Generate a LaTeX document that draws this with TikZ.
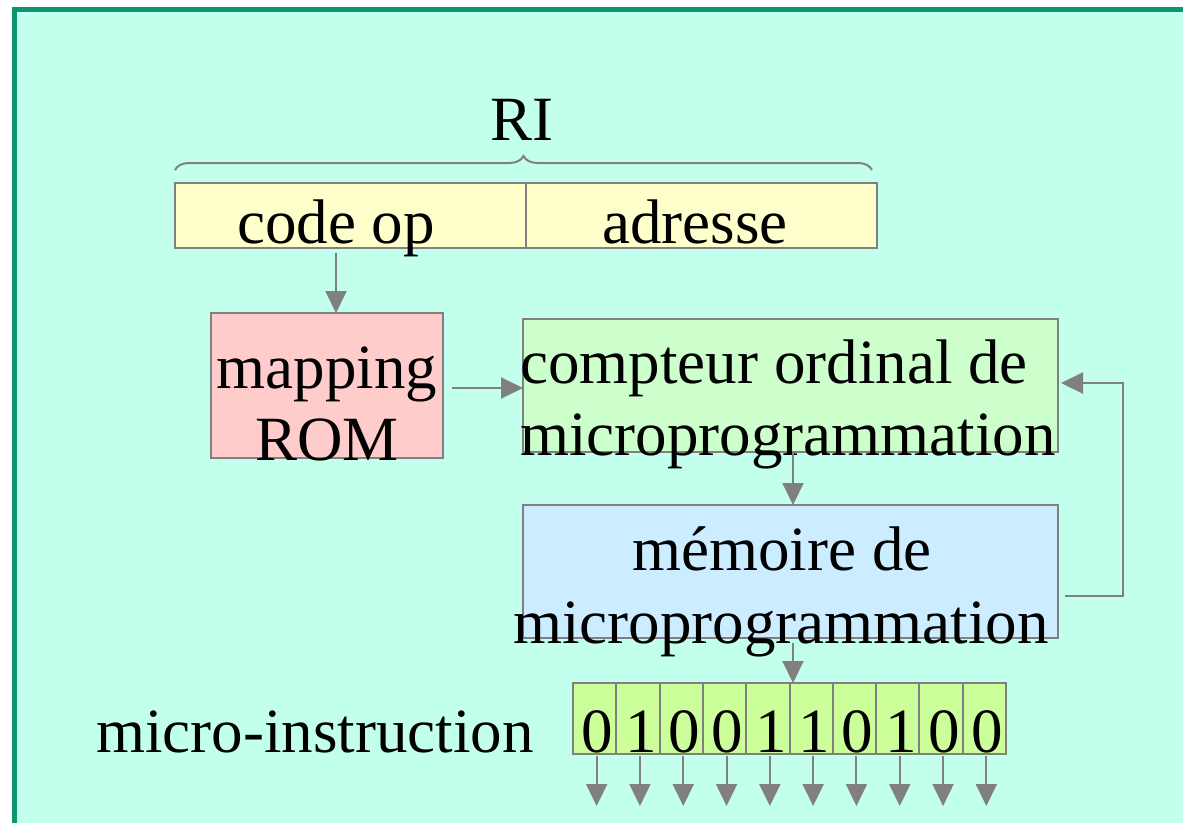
\documentclass[tikz,border=0pt]{standalone}
\usepackage{fontspec}
\setmainfont{Liberation Serif}
\usetikzlibrary{arrows.meta,decorations.pathreplacing}
\definecolor{frameg}{HTML}{0B9673}
\definecolor{panel}{HTML}{C2FFEC}
\definecolor{linegray}{HTML}{808080}
\definecolor{regyellow}{HTML}{FFFFCC}
\definecolor{rompink}{HTML}{FFCCCC}
\definecolor{ctrgreen}{HTML}{CCFFCC}
\definecolor{memblue}{HTML}{CCECFF}
\definecolor{bitgreen}{HTML}{CCFF99}
\tikzset{
  box/.style={draw=linegray, line width=2pt, inner sep=0pt, outer sep=0pt},
  lbl/.style={anchor=base, inner sep=0pt, font=\fontsize{63}{70}\selectfont},
  arr/.style={draw=linegray, line width=2pt, -{Triangle[length=22pt,width=21pt]}},
}
\begin{document}
\begin{tikzpicture}[x=1pt,y=-1pt]
\useasboundingbox (0,0) rectangle (1183,822);
\clip (0,0) rectangle (1183,822);
\fill[white] (0,0) rectangle (1183,822);
% slide panel
\draw[frameg, line width=5pt, fill=panel] (14.5,9.5) rectangle (1200,840);

% instruction register RI
\node[box, fill=regyellow, minimum width=351pt, minimum height=65pt] (code) at (350.5,215.5) {};
\node[box, fill=regyellow, minimum width=351pt, minimum height=65pt] (addr) at (701.5,215.5) {};
\draw[linegray, line width=2pt, decorate, decoration={brace, amplitude=14pt}]
  ([yshift=13pt]code.north west) -- ([yshift=13pt,xshift=-5pt]addr.north east);
\node[lbl] (ri) at (522,140) {RI};
\node[lbl] (codet) at (336,243) {code op};
\node[lbl] (addrt) at (695,243) {adresse};

% mapping ROM
\node[box, fill=rompink, minimum width=232pt, minimum height=145pt] (map) at (327,385.5) {};
\node[lbl] (mapt1) at (327,388) {mapping};
\node[lbl] (mapt2) at (327,460) {ROM};

% microprogram counter
\node[box, fill=ctrgreen, minimum width=535pt, minimum height=133pt] (comp) at (790.5,385.5) {};
\node[lbl] (compt1) at (774,383) {compteur ordinal de};
\node[lbl] (compt2) at (788,455) {microprogrammation};

% control memory
\node[box, fill=memblue, minimum width=535pt, minimum height=133pt] (mem) at (790.5,571.5) {};
\node[lbl] (memt1) at (782,570) {mémoire de};
\node[lbl] (memt2) at (781,643) {microprogrammation};

% micro-instruction register
\node[lbl] (mit) at (315,752) {micro-instruction};
\foreach \b [count=\i from 0] in {0,1,0,0,1,1,0,1,0,0} {
  \node[box, fill=bitgreen, minimum width=43.3pt, minimum height=71pt] (b\i) at (594.65+43.3*\i,718.5) {};
}
\foreach \b [count=\i from 0] in {0,1,0,0,1,1,0,1,0,0} {
  \node[lbl] (d\i) at ([xshift=3pt,yshift=2pt]b\i.south) {\b};
  \coordinate (o\i) at ([xshift=2pt,yshift=-52pt]b\i.south);
  \draw[arr] ([xshift=2pt,yshift=-2pt]b\i.south) -- (o\i);
}

% connectors
\draw[arr] ([xshift=-14.5pt,yshift=-5pt]code.south) -- ([xshift=9pt]map.north);
\draw[arr] ([xshift=9pt,yshift=-2.5pt]map.east) -- ([yshift=-2.5pt]comp.west);
\draw[arr] ([xshift=2.5pt]comp.south) -- ([xshift=2.5pt]mem.north);
\draw[arr] ([xshift=2.5pt,yshift=-5pt]mem.south) -- ([xshift=3.5pt]b4.north east);
\draw[arr] ([xshift=7pt,yshift=-24.5pt]mem.east) -- ++(58,0) |- ([xshift=3pt,yshift=2.5pt]comp.east);
\end{tikzpicture}
\end{document}
